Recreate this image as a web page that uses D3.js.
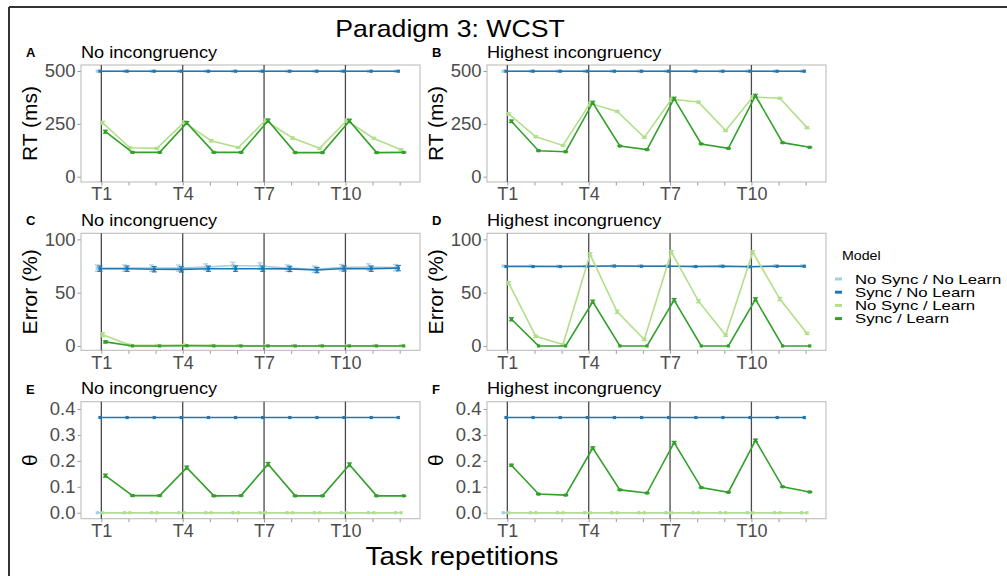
<!DOCTYPE html>
<html>
<head>
<meta charset="utf-8">
<script src="https://cdn.jsdelivr.net/npm/d3@7/dist/d3.min.js"></script>
<style>
  html, body { margin: 0; padding: 0; background: #fff; }
  svg { display: block; font-family: "Liberation Sans", Arial, sans-serif; }
</style>
</head>
<body>
<svg id="chart" width="1007" height="576"></svg>
<script>
// ---------------- DATA ----------------
const trials = [1, 2, 3, 4, 5, 6, 7, 8, 9, 10, 11, 12];
const trialTickLabels = ["T1", "T4", "T7", "T10"];
const trialTickValues = [1, 4, 7, 10];
const models = ["No Sync / No Learn", "Sync / No Learn", "No Sync / Learn", "Sync / Learn"];
const modelColors = ["#a6cee3", "#1f78b4", "#b2df8a", "#33a02c"];

// Panel A: RT, no incongruency
const rtNo_NSNL = [499, 499, 499, 499, 499, 499, 499, 499, 499, 499, 499, 499];
const rtNo_SNL  = [499, 499, 499, 499, 499, 499, 499, 499, 499, 499, 499, 499];
const rtNo_NSL  = [255, 137, 134, 258, 170, 138, 266, 183, 134, 266, 181, 128];
const rtNo_SL   = [213, 115, 115, 254, 115, 115, 265, 114, 114, 264, 114, 115];
const rtNoSe_NSL = [7, 4, 4, 6, 5, 4, 7, 5, 4, 7, 5, 4];
const rtNoSe_SL  = [7, 2, 2, 7, 2, 2, 8, 2, 2, 8, 2, 2];

// Panel B: RT, highest incongruency
const rtHi_NSNL = [499, 499, 499, 499, 499, 499, 499, 499, 499, 499, 499, 499];
const rtHi_SNL  = [499, 499, 499, 499, 499, 499, 499, 499, 499, 499, 499, 499];
const rtHi_NSL  = [297, 189, 148, 347, 309, 186, 366, 353, 218, 377, 371, 232];
const rtHi_SL   = [262, 123, 118, 350, 145, 128, 369, 155, 134, 383, 161, 139];
const rtHiSe_NSL = [5, 4, 4, 6, 4, 4, 6, 4, 4, 6, 4, 4];
const rtHiSe_SL  = [6, 2, 2, 7, 2, 2, 7, 2, 2, 7, 2, 2];

// Panel C: Error, no incongruency
const erNo_NSNL = [73, 73, 73, 73, 74, 75.5, 75, 73, 72, 73.5, 74, 73.5];
const erNo_SNL  = [72.5, 72.5, 72, 71.8, 72.5, 72.5, 72.5, 72.3, 71.2, 72.7, 72.5, 73];
const erNo_NSL  = [10.5, 0.8, 0.5, 0.9, 0.5, 0.3, 0.2, 0.2, 0.2, 0.2, 0.2, 0.2];
const erNo_SL   = [3.8, 0, 0, 0.2, 0, 0, 0, 0, 0, 0, 0, 0];
const erNoSe_NSNL = [3, 3, 3, 3, 3, 3, 3, 3, 3, 3, 3, 3];
const erNoSe_SNL  = [2.5, 2.5, 2.5, 2.5, 2.5, 2.5, 2.5, 2.5, 2.5, 2.5, 2.5, 2.5];
const erNoSe_NSL  = [2, 0.5, 0.3, 0.5, 0.3, 0.2, 0.1, 0.1, 0.1, 0.1, 0.1, 0.1];
const erNoSe_SL   = [1, 0, 0, 0.1, 0, 0, 0, 0, 0, 0, 0, 0];

// Panel D: Error, highest incongruency
const erHi_NSNL = [75, 75, 74.8, 74.5, 75, 75, 75, 74.5, 75, 74.5, 75, 75];
const erHi_SNL  = [74.5, 74.5, 74.5, 74.8, 75, 74.8, 74.8, 74.5, 74.8, 74.3, 74.8, 74.8];
const erHi_NSL  = [59, 9, 1.3, 86, 32, 6, 88, 42, 10, 88, 44, 11.7];
const erHi_SL   = [25, 0, 0, 41.5, 0, 0, 43, 0, 0, 43.7, 0, 0];
const erHiSe_NSL = [1.5, 1, 0.5, 1.5, 1.5, 1, 1.5, 1.5, 1, 1.5, 1.5, 1];
const erHiSe_SL  = [1.5, 0, 0, 1.5, 0, 0, 1.5, 0, 0, 1.5, 0, 0];

// Panel E: theta, no incongruency
const thNo_NSNL = [0, 0, 0, 0, 0, 0, 0, 0, 0, 0, 0, 0];
const thNo_SNL  = [0.367, 0.367, 0.367, 0.367, 0.367, 0.367, 0.367, 0.367, 0.367, 0.367, 0.367, 0.367];
const thNo_NSL  = [0, 0, 0, 0, 0, 0, 0, 0, 0, 0, 0, 0];
const thNo_SL   = [0.143, 0.066, 0.066, 0.174, 0.065, 0.066, 0.187, 0.065, 0.065, 0.185, 0.065, 0.065];
const thNoSe_SL = [0.006, 0.002, 0.002, 0.006, 0.002, 0.002, 0.007, 0.002, 0.002, 0.007, 0.002, 0.002];

// Panel F: theta, highest incongruency
const thHi_NSNL = [0, 0, 0, 0, 0, 0, 0, 0, 0, 0, 0, 0];
const thHi_SNL  = [0.367, 0.367, 0.367, 0.367, 0.367, 0.367, 0.367, 0.367, 0.367, 0.367, 0.367, 0.367];
const thHi_NSL  = [0, 0, 0, 0, 0, 0, 0, 0, 0, 0, 0, 0];
const thHi_SL   = [0.183, 0.072, 0.068, 0.249, 0.088, 0.076, 0.270, 0.097, 0.079, 0.279, 0.100, 0.080];
const thHiSe_SL = [0.004, 0.002, 0.002, 0.005, 0.002, 0.002, 0.005, 0.002, 0.002, 0.005, 0.002, 0.002];

const rtTicks = [0, 250, 500];
const errTicks = [0, 50, 100];
const thTicks = [0, 0.1, 0.2, 0.3, 0.4];

const chartTitle = "Paradigm 3: WCST";
const xAxisTitle = "Task repetitions";
const legendTitle = "Model";

// ---------------- PANELS ----------------
const zeros = trials.map(() => 0);
const panels = [
  { tag: "A", title: "No incongruency", ylab: "RT (ms)", col: 0, row: 0, domain: [-25.1, 528.4], ticks: rtTicks, fmt: d3.format("d"),
    series: [rtNo_NSNL, rtNo_SNL, rtNo_NSL, rtNo_SL], se: [zeros, zeros, rtNoSe_NSL, rtNoSe_SL] },
  { tag: "B", title: "Highest incongruency", ylab: "RT (ms)", col: 1, row: 0, domain: [-25.1, 528.4], ticks: rtTicks, fmt: d3.format("d"),
    series: [rtHi_NSNL, rtHi_SNL, rtHi_NSL, rtHi_SL], se: [zeros, zeros, rtHiSe_NSL, rtHiSe_SL] },
  { tag: "C", title: "No incongruency", ylab: "Error (%)", col: 0, row: 1, domain: [-4.1, 105.7], ticks: errTicks, fmt: d3.format("d"),
    series: [erNo_NSNL, erNo_SNL, erNo_NSL, erNo_SL], se: [erNoSe_NSNL, erNoSe_SNL, erNoSe_NSL, erNoSe_SL] },
  { tag: "D", title: "Highest incongruency", ylab: "Error (%)", col: 1, row: 1, domain: [-4.1, 105.7], ticks: errTicks, fmt: d3.format("d"),
    series: [erHi_NSNL, erHi_SNL, erHi_NSL, erHi_SL], se: [zeros, zeros, erHiSe_NSL, erHiSe_SL] },
  { tag: "E", title: "No incongruency", ylab: "\u03B8", col: 0, row: 2, domain: [-0.023, 0.428], ticks: thTicks, fmt: d3.format(".1f"),
    series: [thNo_NSNL, thNo_SNL, thNo_NSL, thNo_SL], se: [zeros, zeros, zeros, thNoSe_SL] },
  { tag: "F", title: "Highest incongruency", ylab: "\u03B8", col: 1, row: 2, domain: [-0.023, 0.428], ticks: thTicks, fmt: d3.format(".1f"),
    series: [thHi_NSNL, thHi_SNL, thHi_NSL, thHi_SL], se: [zeros, zeros, zeros, thHiSe_SL] }
];

// ---------------- LAYOUT ----------------
const colX = [81, 487];
const rowY = [65, 233.3, 401.7];
const pW = 339, pH = 117;
const dodge = [-0.15, -0.05, 0.05, 0.15];
const tickCol = "#4d4d4d";
const fontStack = '"Liberation Sans", Arial, sans-serif';

const svg = d3.select("#chart");

// text with slight horizontal stretch (reference glyphs are wider than tall)
function wideText(parent, x, y, str, size, sx, anchor) {
  return parent.append("text")
    .attr("transform", `translate(${x},${y}) scale(${sx},1)`)
    .attr("text-anchor", anchor || "start")
    .attr("font-size", size).attr("fill", "#000").text(str);
}

// outer frame (top and left)
svg.append("line").attr("x1", 9).attr("x2", 1007).attr("y1", 7).attr("y2", 7)
  .attr("stroke", "#333").attr("stroke-width", 2);
svg.append("line").attr("x1", 9).attr("x2", 9).attr("y1", 7).attr("y2", 576)
  .attr("stroke", "#333").attr("stroke-width", 2);

wideText(svg, 450, 37, chartTitle, 24, 1.11, "middle");
wideText(svg, 462, 565, xAxisTitle, 25.5, 1.09, "middle");

panels.forEach(p => {
  const x0 = colX[p.col], y0 = rowY[p.row];
  const g = svg.append("g").attr("transform", `translate(${x0},${y0})`);
  const x = d3.scaleLinear().domain([0.25, 12.75]).range([0, pW]);
  const y = d3.scaleLinear().domain(p.domain).range([pH, 0]);

  // tag + subtitle
  svg.append("text").attr("x", p.col === 0 ? 26 : 432).attr("y", y0 - 8)
    .attr("font-size", 13).attr("font-weight", "bold").attr("fill", "#000").text(p.tag);
  wideText(svg, x0, y0 - 7.5, p.title, 16.5, 1.1);

  // axes
  const xAxis = d3.axisBottom(x).tickValues(trials).tickSize(3.5).tickPadding(2)
    .tickFormat(d => { const i = trialTickValues.indexOf(d); return i >= 0 ? trialTickLabels[i] : ""; });
  const gx = g.append("g").attr("transform", `translate(0,${pH})`).call(xAxis);
  gx.select(".domain").remove();
  gx.selectAll(".tick line").attr("stroke", "#999");
  gx.selectAll(".tick text").attr("fill", tickCol).attr("font-size", 18).attr("font-family", fontStack);

  const yAxis = d3.axisLeft(y).tickValues(p.ticks).tickSize(3.5).tickPadding(2).tickFormat(p.fmt);
  const gy = g.append("g").call(yAxis);
  gy.select(".domain").remove();
  gy.selectAll(".tick line").attr("stroke", "#999");
  gy.selectAll(".tick text").attr("fill", tickCol).attr("font-size", 18.5).attr("font-family", fontStack);

  // y title
  svg.append("text")
    .attr("transform", `translate(${p.col === 0 ? 37 : 443},${y0 + pH / 2}) rotate(-90)`)
    .attr("text-anchor", "middle").attr("font-size", 21).attr("fill", "#000").text(p.ylab);

  // border
  g.append("rect").attr("x", 0).attr("y", 0).attr("width", pW).attr("height", pH)
    .attr("fill", "none").attr("stroke", "#bdbdbd").attr("stroke-width", 1.1);

  // vertical reference lines
  g.selectAll("line.vref").data(trialTickValues).enter().append("line")
    .attr("class", "vref")
    .attr("x1", d => x(d)).attr("x2", d => x(d)).attr("y1", 0).attr("y2", pH)
    .attr("stroke", "#4a4a4a").attr("stroke-width", 1.3);

  // series
  p.series.forEach((vals, si) => {
    const col = modelColors[si];
    const pts = vals.map((v, i) => ({ t: trials[i] + dodge[si], v, se: p.se[si][i] }));
    const line = d3.line().x(d => x(d.t)).y(d => y(d.v));
    g.append("path").datum(pts).attr("d", line).attr("fill", "none")
      .attr("stroke", col).attr("stroke-width", 1.6);
    const eb = g.append("g");
    pts.forEach(d => {
      if (d.se > 0) {
        const yt = y(d.v + d.se), yb = y(d.v - d.se), xc = x(d.t);
        eb.append("line").attr("x1", xc).attr("x2", xc).attr("y1", yt).attr("y2", yb).attr("stroke", col).attr("stroke-width", 1.2);
        eb.append("line").attr("x1", xc - 2.5).attr("x2", xc + 2.5).attr("y1", yt).attr("y2", yt).attr("stroke", col).attr("stroke-width", 1.2);
        eb.append("line").attr("x1", xc - 2.5).attr("x2", xc + 2.5).attr("y1", yb).attr("y2", yb).attr("stroke", col).attr("stroke-width", 1.2);
      }
    });
    g.selectAll(null).data(pts).enter().append("rect")
      .attr("x", d => x(d.t) - 1.6).attr("y", d => y(d.v) - 1.6)
      .attr("width", 3.2).attr("height", 3.2).attr("fill", col);
  });
});

// legend
const lg = svg.append("g");
wideText(lg, 842, 259.5, legendTitle, 13.5, 1.05);
models.forEach((m, i) => {
  const cy = 279 + i * 13.2;
  lg.append("line").attr("x1", 835).attr("x2", 842).attr("y1", cy).attr("y2", cy)
    .attr("stroke", modelColors[i]).attr("stroke-width", 3);
  wideText(lg, 855, cy + 4.7, m, 13.2, 1.27);
});
</script>
</body>
</html>
